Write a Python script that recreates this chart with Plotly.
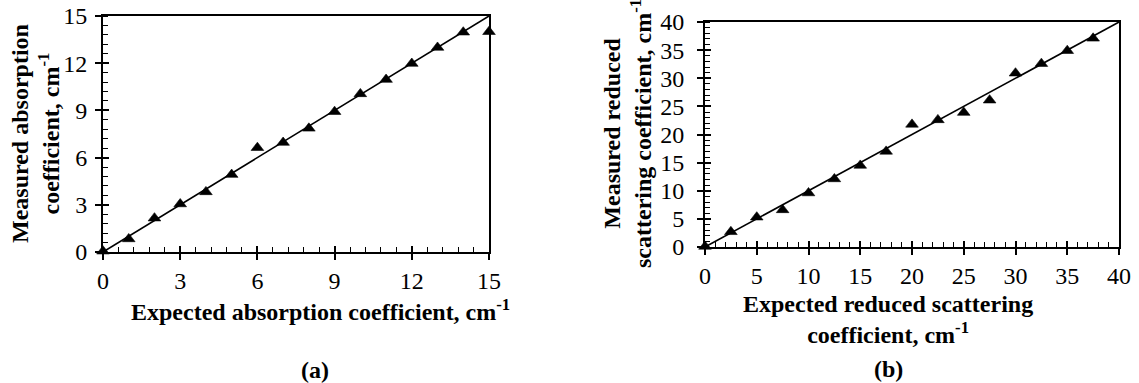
import plotly.graph_objects as go

# ---- data ----
abs_expected = [0, 1, 2, 3, 4, 5, 6, 7, 8, 9, 10, 11, 12, 13, 14, 15]
abs_measured = [0.05, 0.83, 2.15, 3.05, 3.82, 4.92, 6.63, 6.96, 7.86, 8.92, 10.05, 10.96, 11.98, 13.0, 13.97, 14.0]
abs_fit_x = [0, 15]
abs_fit_y = [0, 15]

sca_expected = [0, 2.5, 5, 7.5, 10, 12.5, 15, 17.5, 20, 22.5, 25, 27.5, 30, 32.5, 35, 37.5]
sca_measured = [0.1, 2.7, 5.3, 6.6, 9.6, 12.1, 14.5, 17.0, 21.8, 22.6, 23.9, 26.1, 30.9, 32.6, 34.9, 37.1]
sca_fit_x = [0, 40]
sca_fit_y = [0, 40]

a_ticks = [0, 3, 6, 9, 12, 15]
b_ticks = [0, 5, 10, 15, 20, 25, 30, 35, 40]

FONT = "Liberation Serif"
W, H = 1139, 383

fig = go.Figure()

marker = dict(symbol="triangle-up", size=11, color="black", line=dict(color="black", width=0.6))

fig.add_trace(go.Scatter(x=abs_fit_x, y=abs_fit_y, mode="lines", line=dict(color="black", width=1.6),
                         xaxis="x", yaxis="y", showlegend=False, hoverinfo="skip", cliponaxis=False))
fig.add_trace(go.Scatter(x=abs_expected, y=abs_measured, mode="markers", marker=marker,
                         xaxis="x", yaxis="y", showlegend=False, cliponaxis=False))
fig.add_trace(go.Scatter(x=sca_fit_x, y=sca_fit_y, mode="lines", line=dict(color="black", width=1.6),
                         xaxis="x2", yaxis="y2", showlegend=False, hoverinfo="skip", cliponaxis=False))
fig.add_trace(go.Scatter(x=sca_expected, y=sca_measured, mode="markers", marker=marker,
                         xaxis="x2", yaxis="y2", showlegend=False, cliponaxis=False))
# empty traces that carry the inner half of the crossing major ticks
fig.add_trace(go.Scatter(x=[], y=[], xaxis="x3", yaxis="y3", showlegend=False, hoverinfo="skip"))
fig.add_trace(go.Scatter(x=[], y=[], xaxis="x4", yaxis="y4", showlegend=False, hoverinfo="skip"))

def px_x(p):
    return p / W

def px_y(p):
    return 1 - p / H

dom_ax = [px_x(103), px_x(489)]
dom_ay = [px_y(252), px_y(16)]
dom_bx = [px_x(705), px_x(1119)]
dom_by = [px_y(247), px_y(22)]

tickfont = dict(family=FONT, size=24, color="black")

def main_axis(dom, rng, ticks, anchor, minor_dt, standoff):
    return dict(domain=dom, range=rng, anchor=anchor, tickmode="array", tickvals=ticks,
                ticktext=[str(t) for t in ticks], ticks="outside", ticklen=6, tickwidth=1.5,
                tickcolor="black", showline=True, linecolor="black", linewidth=1.8,
                mirror=True, showgrid=False, zeroline=False, tickfont=tickfont,
                ticklabelstandoff=standoff, automargin=False,
                minor=dict(ticks="inside", ticklen=5, tickwidth=1.2, tickcolor="black",
                           dtick=minor_dt, tick0=0, showgrid=False))

def inner_axis(dom, rng, ticks, anchor, overlay):
    return dict(domain=dom, range=rng, anchor=anchor, overlaying=overlay, tickmode="array",
                tickvals=ticks, ticks="inside", ticklen=6, tickwidth=1.5, tickcolor="black",
                showticklabels=False, showline=False, showgrid=False, zeroline=False,
                automargin=False)

fig.update_layout(
    width=W, height=H, autosize=False,
    margin=dict(l=0, r=0, t=0, b=0, pad=0, autoexpand=False),
    paper_bgcolor="white", plot_bgcolor="white",
    xaxis=main_axis(dom_ax, [0, 15], a_ticks, "y", 0.6, 0),
    yaxis=main_axis(dom_ay, [0, 15], a_ticks, "x", 0.6, 3),
    xaxis2=main_axis(dom_bx, [0, 40], b_ticks, "y2", 1, 0),
    yaxis2=main_axis(dom_by, [0, 40], b_ticks, "x2", 1, 8),
    xaxis3=inner_axis(dom_ax, [0, 15], a_ticks, "y", "x"),
    yaxis3=inner_axis(dom_ay, [0, 15], a_ticks, "x", "y"),
    xaxis4=inner_axis(dom_bx, [0, 40], b_ticks, "y2", "x2"),
    yaxis4=inner_axis(dom_by, [0, 40], b_ticks, "x2", "y2"),
)

titlefont = dict(family=FONT, size=24, color="black")

annotations = [
    dict(text="<b>Expected absorption coefficient, cm<sup>-1</sup></b>", x=px_x(320), y=px_y(310)),
    dict(text="<b>Measured absorption<br>coefficient, cm<sup>-1</sup></b>", x=px_x(35), y=px_y(134), textangle=-90),
    dict(text="<b>Expected reduced scattering<br>coefficient, cm<sup>-1</sup></b>", x=px_x(888), y=px_y(319)),
    dict(text="<b>Measured reduced<br>scattering coefficient, cm<sup>-1</sup></b>", x=px_x(627), y=px_y(134), textangle=-90),
    dict(text="<b>(a)</b>", x=px_x(315), y=px_y(370)),
    dict(text="<b>(b)</b>", x=px_x(888), y=px_y(369)),
]
for a in annotations:
    a.update(xref="paper", yref="paper", xanchor="center", yanchor="middle", showarrow=False, font=titlefont)
fig.update_layout(annotations=annotations)

fig.write_html("out.html")
